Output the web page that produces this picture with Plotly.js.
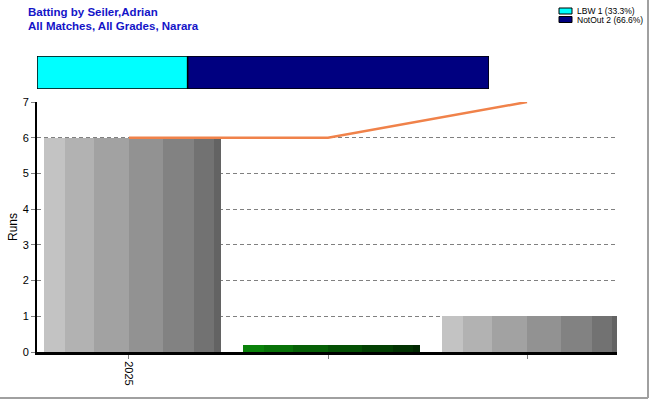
<!DOCTYPE html>
<html>
<head>
<meta charset="utf-8">
<script src="https://cdn.plot.ly/plotly-3.0.1.min.js"></script>
<style>html,body{margin:0;padding:0;background:#fff;}#chart{width:650px;height:400px;}</style>
</head>
<body>
<div id="chart"></div>
<script>
// ---- data ----
var xLabels = ["2025", "", ""];
var barRuns = [6, 0.2, 1];          // drawn bar heights (0* not-out shown as a thin bar)
var notOut = [false, true, false];
var cumulativeRuns = [6, 6, 7];
var dismissalNames = ["LBW", "NotOut"];
var dismissalCounts = [1, 2];
var dismissalPct = ["33.3%", "66.6%"];
var titleLines = ["Batting by Seiler,Adrian", "All Matches, All Grades, Narara"];
var yTitle = "Runs";

// ---- styling ----
var W = 650, H = 400, mL = 37, mR = 33, mT = 0, mB = 48;
var plotW = W - mL - mR, plotH = H - mT - mB;
function px(x) { return (x - mL) / plotW; }
function py(y) { return (plotH + mT - y) / plotH; }

var greys = ["#c3c3c3", "#b2b2b2", "#a2a2a2", "#929292", "#828282", "#727272", "#636363"];
var greens = ["#0a820a", "#087208", "#066006", "#045004", "#034003", "#023202", "#012601"];
var edges = [0, 0.116, 0.282, 0.480, 0.672, 0.847, 0.960, 1.0];
var barW = 0.889, barStart = -0.425;

var xIdx = xLabels.map(function (_, i) { return i; });
var traces = [];
for (var s = 0; s < greys.length; s++) {
  traces.push({
    type: "bar", x: xIdx, y: barRuns, xaxis: "x", yaxis: "y",
    offset: barStart + barW * edges[s], width: barW * (edges[s + 1] - edges[s]),
    marker: { color: notOut.map(function (n) { return n ? greens[s] : greys[s]; }), line: { width: 0 } },
    showlegend: false, hoverinfo: "skip"
  });
}
traces.push({
  type: "scatter", mode: "lines", x: xIdx, y: cumulativeRuns,
  line: { color: "#f0824a", width: 2.5 }, showlegend: false, hoverinfo: "skip"
});
var dismissColors = ["#00ffff", "#000080"];
var base = 0;
for (var d = 0; d < dismissalNames.length; d++) {
  traces.push({
    type: "bar", orientation: "h", x: [dismissalCounts[d]], y: [0], base: [base],
    xaxis: "x2", yaxis: "y2", width: 1,
    marker: { color: dismissColors[d], line: { color: "#000", width: 1.5 } },
    showlegend: false, hoverinfo: "skip"
  });
  base += dismissalCounts[d];
}
var total = dismissalCounts.reduce(function (a, b) { return a + b; }, 0);

var annotations = [
  { text: "<b>" + titleLines[0] + "</b>", xref: "paper", yref: "paper", x: px(26), y: py(12), xanchor: "left", yanchor: "middle", showarrow: false, font: { family: "Liberation Sans, Arial", size: 11.5, color: "#1414c8" } },
  { text: "<b>" + titleLines[1] + "</b>", xref: "paper", yref: "paper", x: px(26), y: py(26), xanchor: "left", yanchor: "middle", showarrow: false, font: { family: "Liberation Sans, Arial", size: 11.5, color: "#1414c8" } }
];
var shapes = [
  { type: "line", xref: "paper", yref: "paper", x0: px(648), x1: px(648), y0: py(0), y1: py(398), line: { color: "#a0a0a0", width: 2 } },
  { type: "line", xref: "paper", yref: "paper", x0: px(0), x1: px(648), y0: py(398), y1: py(398), line: { color: "#a0a0a0", width: 2 } }
];
var legY = [11, 19.5];
for (var k = 0; k < dismissalNames.length; k++) {
  shapes.push({ type: "rect", xref: "paper", yref: "paper", x0: px(559), x1: px(572), y0: py(legY[k] - 3), y1: py(legY[k] + 3), fillcolor: dismissColors[k], line: { color: "#000", width: 1 } });
  annotations.push({ text: dismissalNames[k] + " " + dismissalCounts[k] + " (" + dismissalPct[k] + ")", xref: "paper", yref: "paper", x: px(575), y: py(legY[k]), xanchor: "left", yanchor: "middle", showarrow: false, font: { family: "Liberation Sans, Arial", size: 8.5, color: "#000" } });
}

var layout = {
  width: W, height: H, margin: { l: mL, r: mR, t: mT, b: mB, pad: 0 },
  paper_bgcolor: "#fff", plot_bgcolor: "#fff", barmode: "overlay", bargap: 0,
  font: { family: "Liberation Sans, Arial", size: 11, color: "#000" },
  xaxis: {
    domain: [0, 1], range: [-0.462, 2.452], tickvals: xIdx, ticktext: xLabels,
    tickangle: 90, ticks: "outside", ticklen: 4, tickcolor: "#808080",
    showline: true, linecolor: "#000", linewidth: 3, showgrid: false, zeroline: false,
    tickfont: { size: 11 }
  },
  yaxis: {
    domain: [0, py(102)], range: [0, 7], dtick: 1, ticks: "outside", ticklen: 4, tickcolor: "#808080",
    showline: true, linecolor: "#000", linewidth: 2, showgrid: true, gridcolor: "#808080", griddash: "4px,3px", gridwidth: 1,
    zeroline: false, title: { text: yTitle, font: { size: 12 }, standoff: 2 }, tickfont: { size: 11 }
  },
  xaxis2: { domain: [0, px(489)], range: [0, total], visible: false, fixedrange: true, anchor: "y2" },
  yaxis2: { domain: [py(89), py(56)], range: [-0.5, 0.5], visible: false, anchor: "x2" },
  annotations: annotations, shapes: shapes, showlegend: false
};
Plotly.newPlot("chart", traces, layout, { displayModeBar: false, staticPlot: true });
</script>
</body>
</html>
